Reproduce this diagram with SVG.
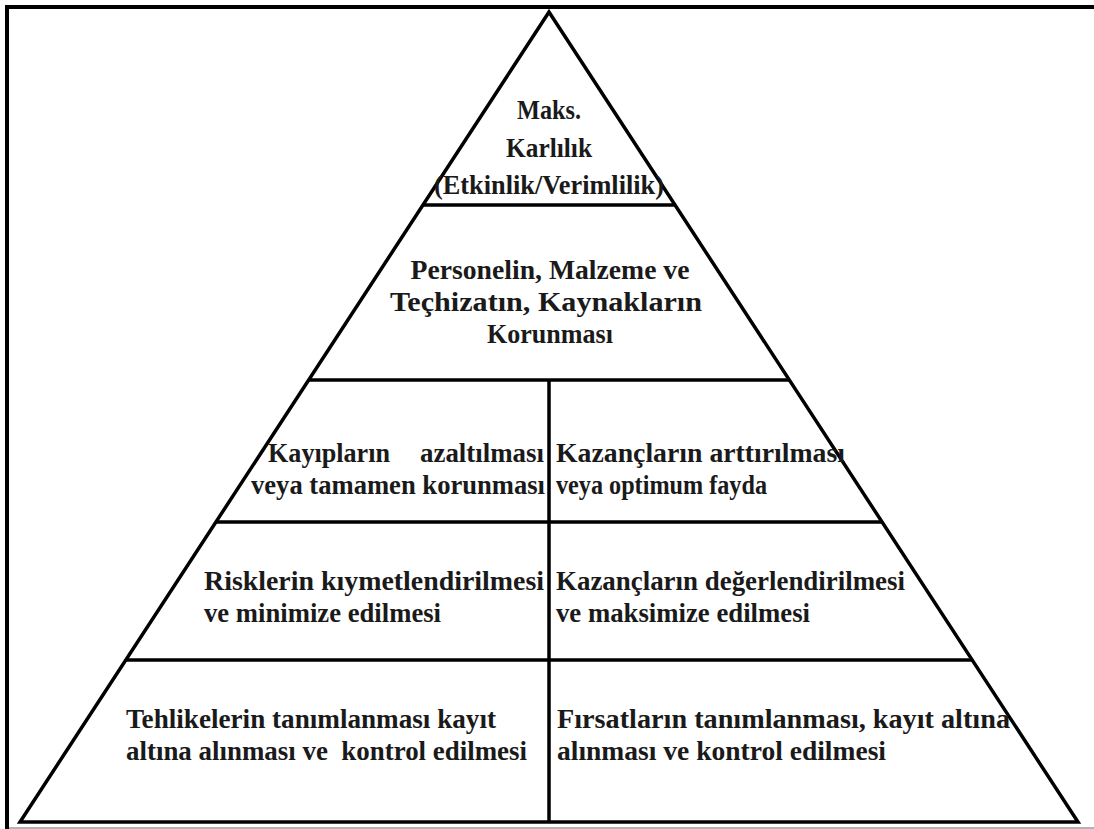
<svg xmlns="http://www.w3.org/2000/svg" width="1094" height="829" viewBox="0 0 1094 829">
<style>
.ln{stroke:#000;stroke-width:3.5;fill:none;stroke-linejoin:miter}
.t{font-family:"Liberation Serif","Times New Roman",serif;font-weight:bold;font-size:28px;fill:#1a1a1a}
.c{text-anchor:middle}
.e{text-anchor:end}
</style>
<rect width="1094" height="829" fill="#fff"/>
<g id="frame">
<path d="M7,829 V7 H1094" stroke="#000" stroke-width="4" fill="none"/>
<line x1="9" y1="828" x2="1094" y2="828" stroke="#999" stroke-width="1.5"/>
</g>
<g id="connectors">
<polygon class="ln" points="549,12 1078,822 20,822"/>
<line class="ln" x1="423" y1="205" x2="675" y2="205"/>
<line class="ln" x1="309" y1="380" x2="789" y2="380"/>
<line class="ln" x1="216" y1="522" x2="882" y2="522"/>
<line class="ln" x1="126" y1="660" x2="972" y2="660"/>
<line class="ln" x1="549" y1="380" x2="549" y2="822" stroke-width="2.5"/>
</g>
<g id="node-top">
<text class="t c" x="549" y="119" font-size="24" textLength="64" lengthAdjust="spacingAndGlyphs">Maks.</text>
<text class="t c" x="549" y="157" font-size="24" textLength="86" lengthAdjust="spacingAndGlyphs">Karlılık</text>
<text class="t c" x="549" y="194" font-size="25" textLength="230" lengthAdjust="spacingAndGlyphs">(Etkinlik/Verimlilik)</text>
</g>
<g id="node-protection">
<text class="t c" x="550" y="279" textLength="279" lengthAdjust="spacingAndGlyphs">Personelin, Malzeme ve</text>
<text class="t c" x="546" y="311" textLength="312" lengthAdjust="spacingAndGlyphs">Teçhizatın, Kaynakların</text>
<text class="t c" x="550" y="343" textLength="126" lengthAdjust="spacingAndGlyphs">Korunması</text>
</g>
<g id="node-losses">
<text class="t" x="268" y="462" textLength="122" lengthAdjust="spacingAndGlyphs">Kayıpların</text>
<text class="t" x="420" y="462" textLength="124" lengthAdjust="spacingAndGlyphs">azaltılması</text>
<text class="t" x="251" y="494" textLength="294" lengthAdjust="spacingAndGlyphs">veya tamamen korunması</text>
</g>
<g id="node-gains">
<text class="t" x="556" y="462" textLength="289" lengthAdjust="spacingAndGlyphs">Kazançların arttırılması</text>
<text class="t" x="556" y="494" textLength="211" lengthAdjust="spacingAndGlyphs">veya optimum fayda</text>
</g>
<g id="node-risks">
<text class="t" x="204" y="590" textLength="340" lengthAdjust="spacingAndGlyphs">Risklerin kıymetlendirilmesi</text>
<text class="t" x="204" y="622" textLength="237" lengthAdjust="spacingAndGlyphs">ve minimize edilmesi</text>
</g>
<g id="node-gain-eval">
<text class="t" x="556" y="590" textLength="349" lengthAdjust="spacingAndGlyphs">Kazançların değerlendirilmesi</text>
<text class="t" x="556" y="622" textLength="254" lengthAdjust="spacingAndGlyphs">ve maksimize edilmesi</text>
</g>
<g id="node-hazards">
<text class="t" x="126" y="728" textLength="370" lengthAdjust="spacingAndGlyphs">Tehlikelerin tanımlanması kayıt</text>
<text class="t" x="126" y="760" textLength="401" lengthAdjust="spacingAndGlyphs" xml:space="preserve">altına alınması ve  kontrol edilmesi</text>
</g>
<g id="node-opportunities">
<text class="t" x="557" y="728" textLength="453" lengthAdjust="spacingAndGlyphs">Fırsatların tanımlanması, kayıt altına</text>
<text class="t" x="557" y="760" textLength="329" lengthAdjust="spacingAndGlyphs">alınması ve kontrol edilmesi</text>
</g>
</svg>
